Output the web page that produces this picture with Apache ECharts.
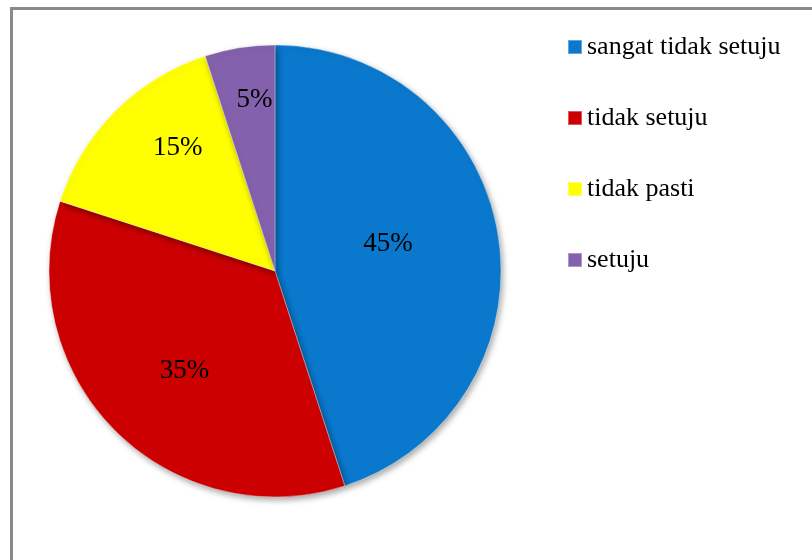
<!DOCTYPE html>
<html lang="id">
<head>
<meta charset="UTF-8">
<title>Pie</title>
<script src="https://cdn.jsdelivr.net/npm/echarts@6/dist/echarts.min.js"></script>
<style>
  html, body { margin: 0; padding: 0; background: #fff; }
  #wrap { position: relative; width: 812px; height: 560px; overflow: hidden; }
  #frame { position: absolute; left: 10px; top: 7px; width: 900px; height: 700px;
           border-left: 3px solid #8a8a8a; border-top: 3px solid #8a8a8a; }
  #main { position: absolute; left: 0; top: 0; width: 812px; height: 560px; }
</style>
</head>
<body>
<div id="wrap">
  <div id="frame"></div>
  <div id="main"></div>
</div>
<script>
  // data
  var categories = ['sangat tidak setuju', 'tidak setuju', 'tidak pasti', 'setuju'];
  var values = [45, 35, 15, 5];
  var colors = ['#0a78cc', '#cc0000', '#ffff00', '#8461ac'];
  // label placement like Excel best fit: radius fraction and angle shift (deg)
  var labelDist = [0.516, 0.59, 0.70, 0.77];
  var labelShift = [-5.4, -2.3, 7.1, 2.2];

  var CX = 275, CY = 271, R = 226;

  var total = values.reduce(function (a, b) { return a + b; }, 0);
  var midAngle = [];
  var acc = 0;
  values.forEach(function (v) {
    midAngle.push((acc + v / 2) / total * 360);
    acc += v;
  });

  var chart = echarts.init(document.getElementById('main'));
  chart.setOption({
    animation: false,
    legend: {
      orient: 'vertical',
      left: 562,
      top: 29,
      itemWidth: 14,
      itemHeight: 14,
      itemGap: 45,
      icon: 'rect',
      textStyle: { fontFamily: 'Liberation Serif', fontSize: 26, lineHeight: 26, color: '#000' },
      data: categories
    },
    series: [{
      type: 'pie',
      center: [CX, CY],
      radius: [0, R],
      startAngle: 90,
      clockwise: true,
      silent: true,
      itemStyle: {
        borderColor: 'rgba(255,255,255,0.35)',
        borderWidth: 1,
        shadowColor: 'rgba(0,0,0,0.35)',
        shadowBlur: 6,
        shadowOffsetX: 2,
        shadowOffsetY: 3
      },
      label: {
        position: 'inside',
        formatter: '{d}%',
        fontFamily: 'Liberation Serif',
        fontSize: 27,
        color: '#000'
      },
      labelLine: { show: false },
      labelLayout: function (p) {
        var i = p.dataIndex;
        var a = (midAngle[i] + labelShift[i]) * Math.PI / 180;
        var d = labelDist[i] * R;
        return {
          x: CX + Math.sin(a) * d,
          y: CY - Math.cos(a) * d + 2,
          align: 'center',
          verticalAlign: 'middle'
        };
      },
      data: categories.map(function (c, i) {
        return { name: c, value: values[i], itemStyle: { color: colors[i] } };
      })
    }]
  });
</script>
</body>
</html>
